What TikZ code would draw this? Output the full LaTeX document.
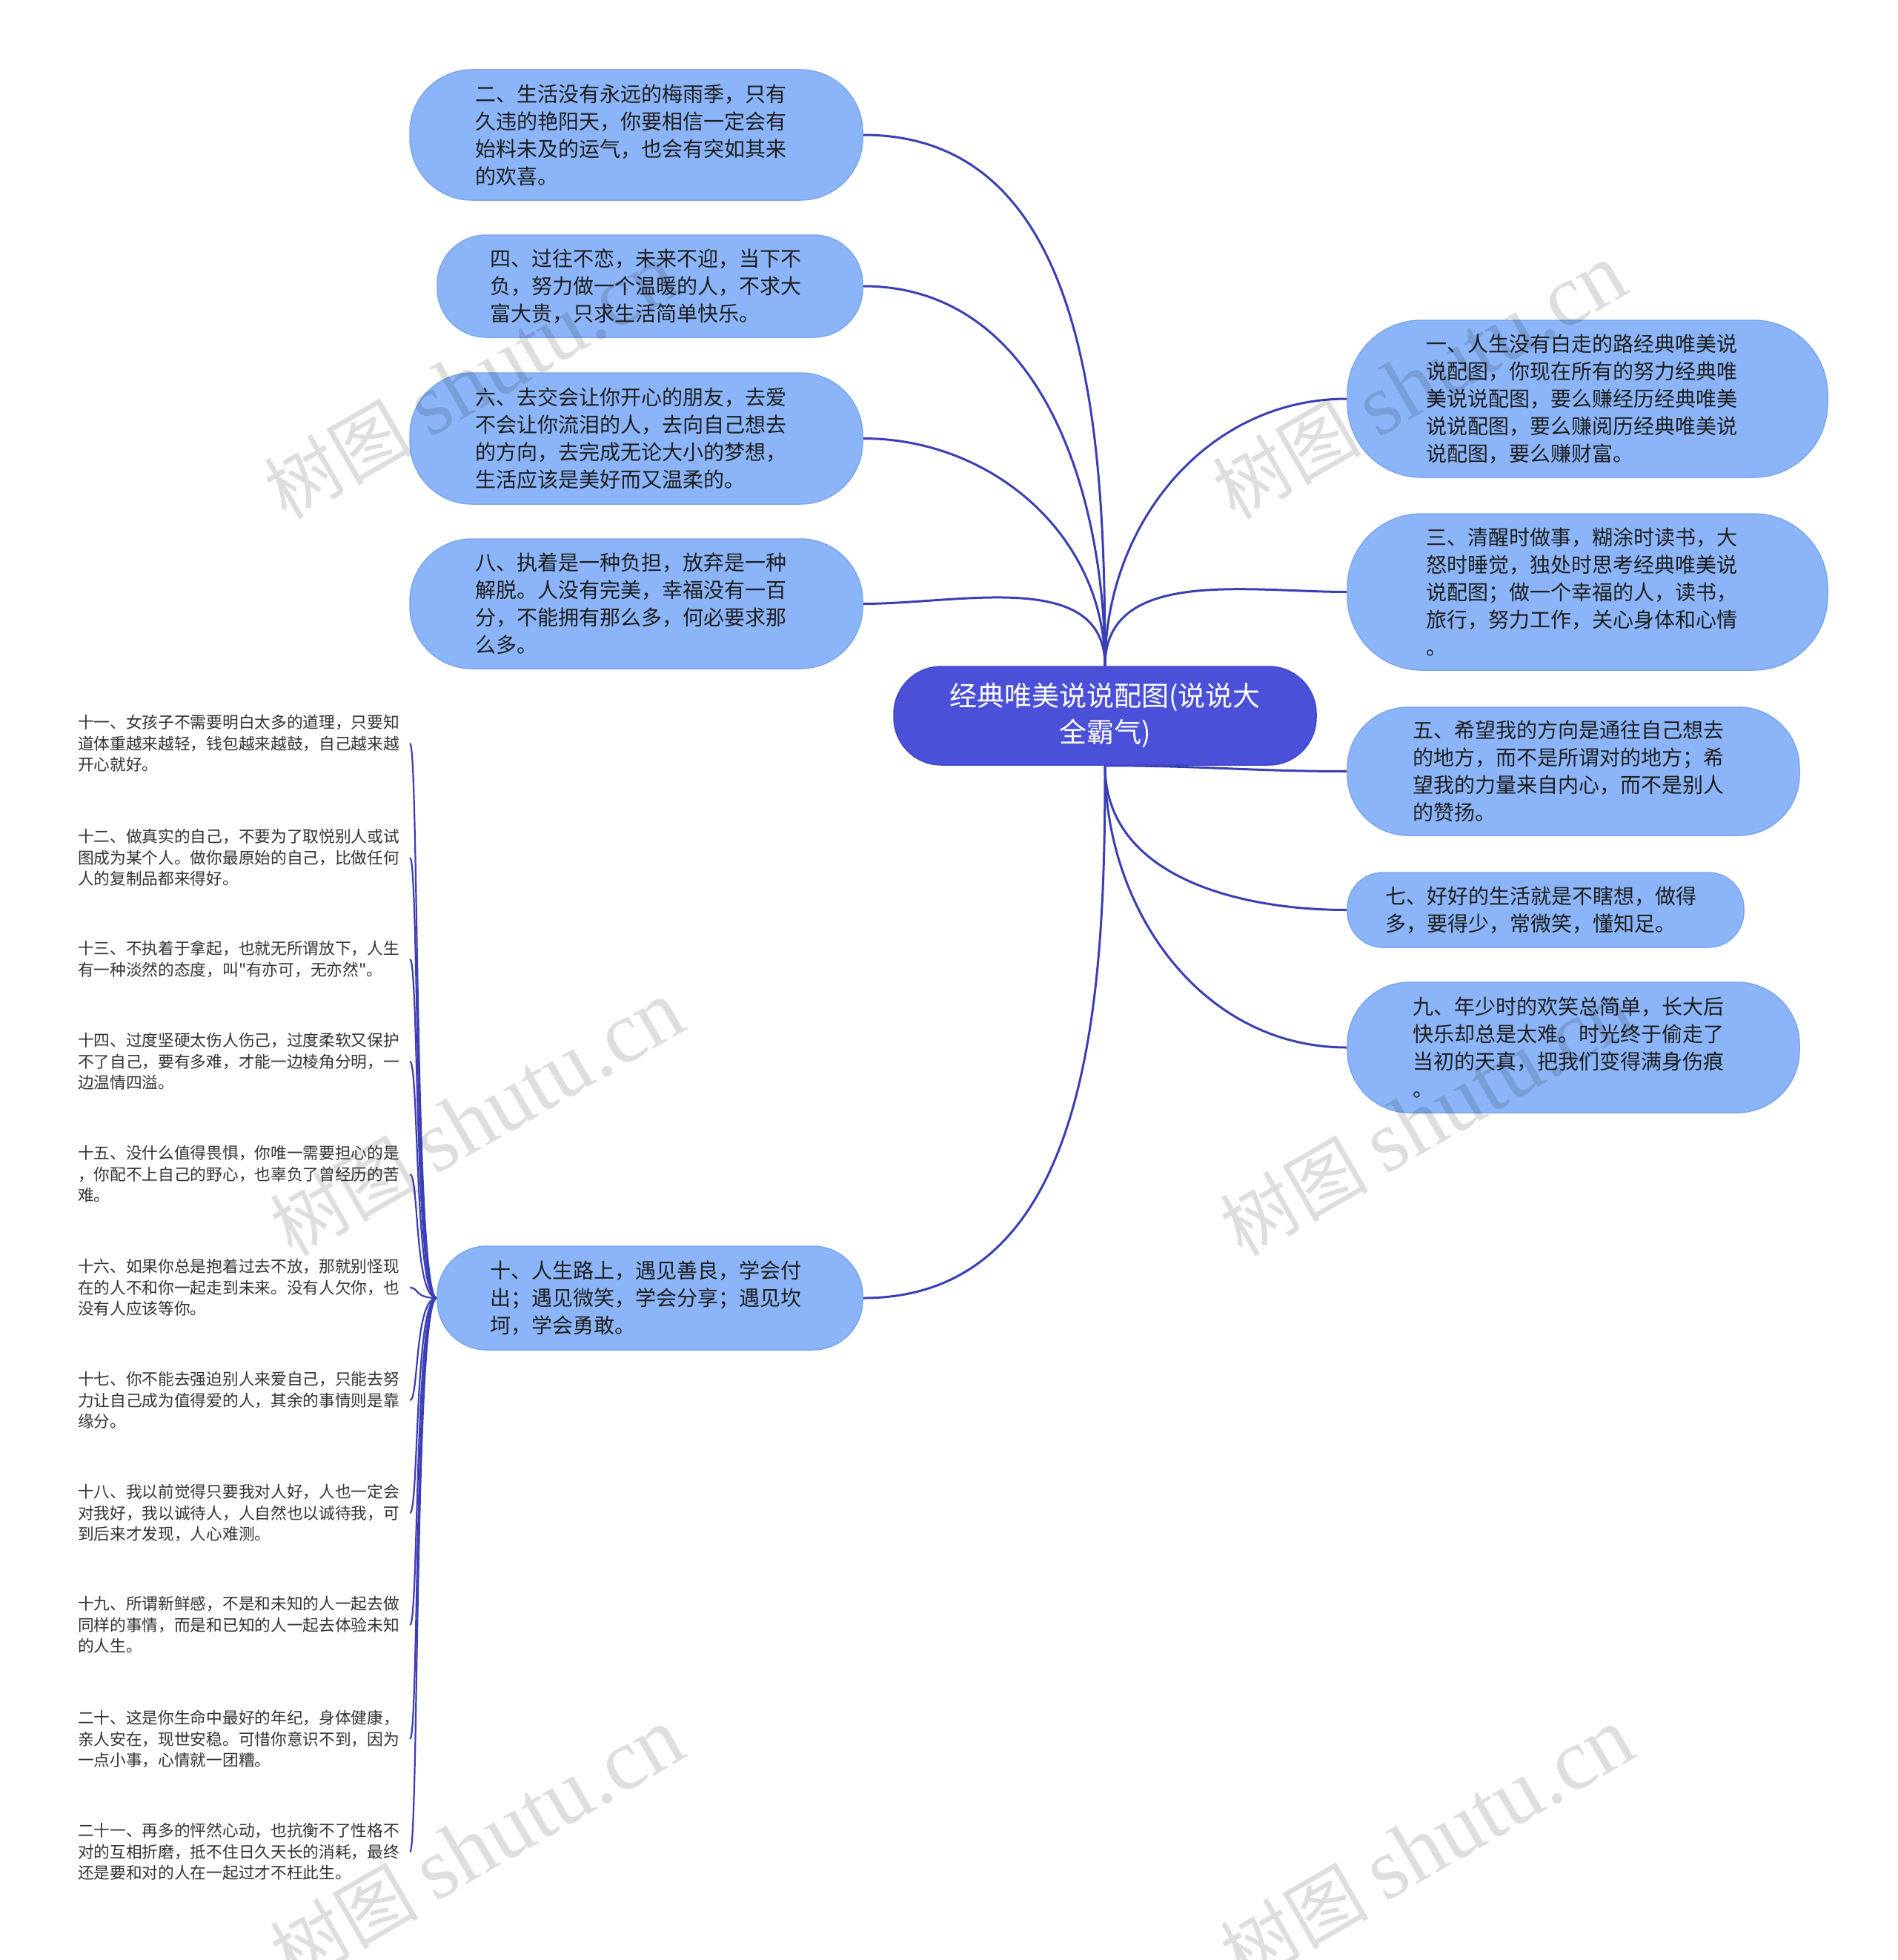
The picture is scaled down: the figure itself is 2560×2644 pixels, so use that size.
\documentclass[tikz,border=0pt]{standalone}
\usepackage{fontspec}
\setmainfont{Noto Sans CJK SC}[Ligatures=TeXOff]
\newfontfamily\wmserif{Liberation Serif}
\usetikzlibrary{backgrounds}
\definecolor{bubblefill}{HTML}{8BB5F8}
\definecolor{bubbleline}{HTML}{7BA6EE}
\definecolor{rootfill}{HTML}{4A50D8}
\definecolor{rootline}{HTML}{4046C8}
\definecolor{linkcol}{HTML}{3A3FB5}
\definecolor{textdark}{HTML}{1E1E1E}
\definecolor{textgray}{HTML}{333333}
\tikzset{
  bubble/.style={draw=bubbleline, fill=bubblefill, line width=1.5pt, text=textdark,
    align=left, inner ysep=0pt, font=\fontsize{28}{37}\selectfont},
  rootbox/.style={draw=rootline, fill=rootfill, line width=1.5pt, text=white,
    align=center, inner sep=0pt, minimum width=570pt, minimum height=133pt,
    rounded corners=64pt, font=\fontsize{37}{49}\selectfont},
  kid/.style={inner sep=0pt, text width=448pt, align=left, text=textgray,
    font=\fontsize{21.7}{28.6}\selectfont},
  link/.style={draw=linkcol, line width=3pt},
  klink/.style={draw=linkcol, line width=2.2pt},
  wm/.style={text=black, opacity=0.13, rotate=30, inner sep=0pt}
}
\begin{document}
\begin{tikzpicture}[x=1pt,y=-1pt]
\useasboundingbox (0,0) rectangle (2560,2644);

% root
\node[rootbox] (c) at (1491,965.5) {经典唯美说说配图(说说大\\全霸气)};

% left bubbles
\node[bubble, text width=435pt, inner xsep=88pt, minimum height=176pt, rounded corners=84pt] (n2) at (858.5,182)
  {二、生活没有永远的梅雨季，只有\\久违的艳阳天，你要相信一定会有\\始料未及的运气，也会有突如其来\\的欢喜。};
\node[bubble, text width=432pt, inner xsep=71pt, minimum height=138pt, rounded corners=66pt] (n4) at (877,386)
  {四、过往不恋，未来不迎，当下不\\负，努力做一个温暖的人，不求大\\富大贵，只求生活简单快乐。};
\node[bubble, text width=435pt, inner xsep=88pt, minimum height=177pt, rounded corners=84pt] (n6) at (858.5,591.5)
  {六、去交会让你开心的朋友，去爱\\不会让你流泪的人，去向自己想去\\的方向，去完成无论大小的梦想，\\生活应该是美好而又温柔的。};
\node[bubble, text width=435pt, inner xsep=88pt, minimum height=175pt, rounded corners=84pt] (n8) at (858.5,814.5)
  {八、执着是一种负担，放弃是一种\\解脱。人没有完美，幸福没有一百\\分，不能拥有那么多，何必要求那\\么多。};
\node[bubble, text width=432pt, inner xsep=71pt, minimum height=140pt, rounded corners=67pt] (n10) at (877,1751)
  {十、人生路上，遇见善良，学会付\\出；遇见微笑，学会分享；遇见坎\\坷，学会勇敢。};

% right bubbles
\node[bubble, text width=436pt, inner xsep=106pt, minimum height=212pt, rounded corners=100pt] (n1) at (2142,538)
  {一、人生没有白走的路经典唯美说\\说配图，你现在所有的努力经典唯\\美说说配图，要么赚经历经典唯美\\说说配图，要么赚阅历经典唯美说\\说配图，要么赚财富。};
\node[bubble, text width=436pt, inner xsep=106pt, minimum height=211pt, rounded corners=100pt] (n3) at (2142,798.5)
  {三、清醒时做事，糊涂时读书，大\\怒时睡觉，独处时思考经典唯美说\\说配图；做一个幸福的人，读书，\\旅行，努力工作，关心身体和心情\\。};
\node[bubble, text width=434pt, inner xsep=88pt, minimum height=173pt, rounded corners=82pt] (n5) at (2123,1040.5)
  {五、希望我的方向是通往自己想去\\的地方，而不是所谓对的地方；希\\望我的力量来自内心，而不是别人\\的赞扬。};
\node[bubble, text width=433pt, inner xsep=51pt, minimum height=101pt, rounded corners=48pt] (n7) at (2085.5,1227.5)
  {七、好好的生活就是不瞎想，做得\\多，要得少，常微笑，懂知足。};
\node[bubble, text width=434pt, inner xsep=88pt, minimum height=176pt, rounded corners=84pt] (n9) at (2123,1413)
  {九、年少时的欢笑总简单，长大后\\快乐却总是太难。时光终于偷走了\\当初的天真，把我们变得满身伤痕\\。};

% children of n10
\node[kid] (k11) at (329,1003) {十一、女孩子不需要明白太多的道理，只要知\\道体重越来越轻，钱包越来越鼓，自己越来越\\开心就好。};
\node[kid] (k12) at (329,1157) {十二、做真实的自己，不要为了取悦别人或试\\图成为某个人。做你最原始的自己，比做任何\\人的复制品都来得好。};
\node[kid] (k13) at (329,1294) {十三、不执着于拿起，也就无所谓放下，人生\\有一种淡然的态度，叫"有亦可，无亦然"。};
\node[kid] (k14) at (329,1432) {十四、过度坚硬太伤人伤己，过度柔软又保护\\不了自己，要有多难，才能一边棱角分明，一\\边温情四溢。};
\node[kid] (k15) at (329,1584) {十五、没什么值得畏惧，你唯一需要担心的是\\，你配不上自己的野心，也辜负了曾经历的苦\\难。};
\node[kid] (k16) at (329,1737) {十六、如果你总是抱着过去不放，那就别怪现\\在的人不和你一起走到未来。没有人欠你，也\\没有人应该等你。};
\node[kid] (k17) at (329,1889) {十七、你不能去强迫别人来爱自己，只能去努\\力让自己成为值得爱的人，其余的事情则是靠\\缘分。};
\node[kid] (k18) at (329,2041) {十八、我以前觉得只要我对人好，人也一定会\\对我好，我以诚待人，人自然也以诚待我，可\\到后来才发现，人心难测。};
\node[kid] (k19) at (329,2192) {十九、所谓新鲜感，不是和未知的人一起去做\\同样的事情，而是和已知的人一起去体验未知\\的人生。};
\node[kid] (k20) at (329,2346) {二十、这是你生命中最好的年纪，身体健康，\\亲人安在，现世安稳。可惜你意识不到，因为\\一点小事，心情就一团糟。};
\node[kid] (k21) at (329,2498) {二十一、再多的怦然心动，也抗衡不了性格不\\对的互相折磨，抵不住日久天长的消耗，最终\\还是要和对的人在一起过才不枉此生。};

% connectors
\begin{scope}[on background layer]
  \fill[white] (0,0) rectangle (2560,2644);
  \draw[link] (c.north) to[out=90,in=0] (n2.east);
  \draw[link] (c.north) to[out=90,in=0] (n4.east);
  \draw[link] (c.north) to[out=90,in=0] (n6.east);
  \draw[link] (c.north) to[out=90,in=0] (n8.east);
  \draw[link] (c.north) to[out=90,in=180] (n1.west);
  \draw[link] (c.north) to[out=90,in=180] (n3.west);
  \draw[link] (c.south) to[out=0,in=180] (n5.west);
  \draw[link] (c.south) to[out=-90,in=180] (n7.west);
  \draw[link] (c.south) to[out=-90,in=180] (n9.west);
  \draw[link] (c.south) to[out=-90,in=0] (n10.east);
  \foreach \k in {k11,k12,k13,k14,k15,k16,k17,k18,k19,k20,k21}{
    \draw[klink] (n10.west) .. controls +(-30,0) and +(12,0) .. (\k.east);
  }
\end{scope}

% watermarks
\foreach \i/\x/\y in {1/636/515, 2/1916/515, 3/644/1509, 4/1926/1509, 5/644/2490, 6/1926/2490}{
  \node[wm] (wm\i) at (\x,\y) {\fontsize{100}{100}\selectfont 树图 {\wmserif\fontsize{118}{118}\selectfont shutu.cn}};
}
\end{tikzpicture}
\end{document}
